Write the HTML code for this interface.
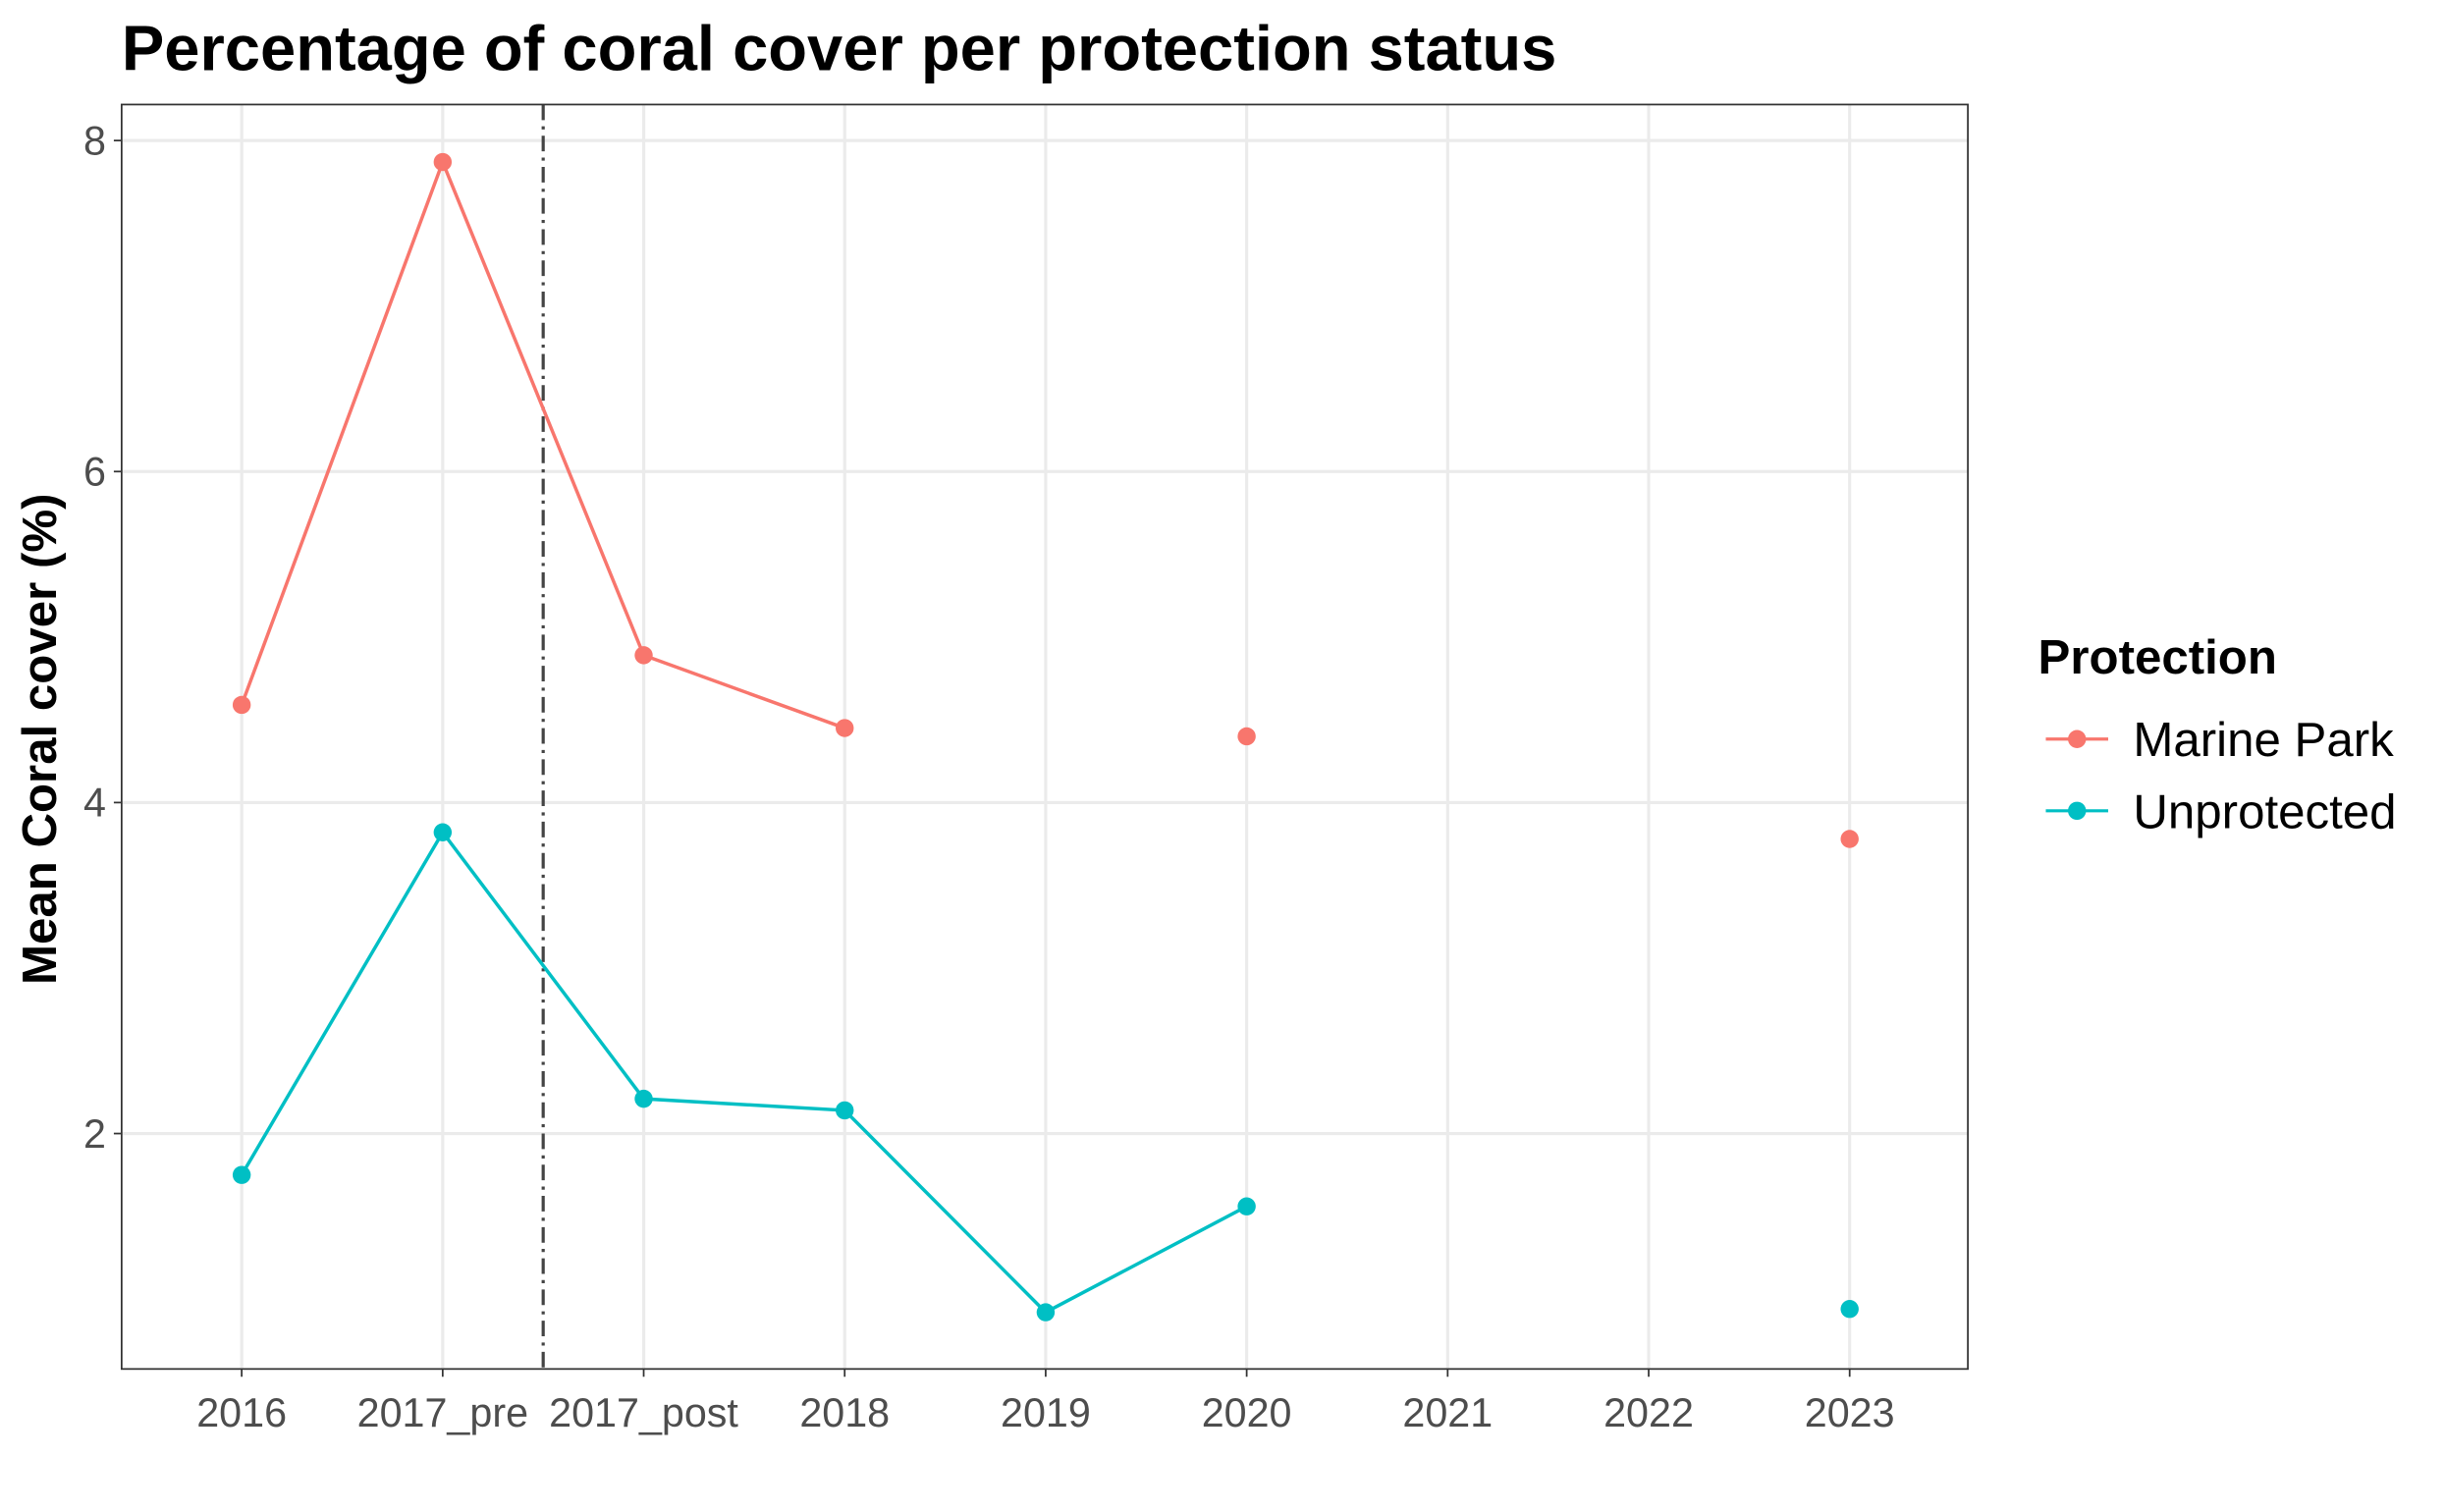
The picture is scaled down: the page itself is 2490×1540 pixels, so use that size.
<!DOCTYPE html>
<html><head><meta charset="utf-8"><style>
html,body{margin:0;padding:0;background:#fff}
svg{display:block;font-family:"Liberation Sans",Arial,sans-serif}
</style></head><body>
<svg id="chart" width="2490" height="1540" viewBox="0 0 1568 969.7" xmlns="http://www.w3.org/2000/svg">
<rect width="1568" height="969.7" fill="#fff"/>
<text x="78" y="45" font-size="41" font-weight="bold" fill="#000">Percentage of coral cover per protection status</text>
<g id="grid"></g>
<g id="axes"></g>
<g id="series"></g>
<rect x="78" y="67" width="1184" height="811" fill="none" stroke="#333" stroke-width="1.1"/>
<text transform="translate(36,474) rotate(-90)" text-anchor="middle" font-size="31" font-weight="bold" fill="#000">Mean Coral cover (%)</text>
<g>
<text x="1307" y="432" font-size="31" font-weight="bold" fill="#000">Protection</text>
<g>
<line x1="1312" y1="474" x2="1352" y2="474" stroke="#F8766D" stroke-width="2"/><circle cx="1332" cy="474" r="5.8" fill="#F8766D"/>
<text x="1368" y="485" font-size="31" fill="#000">Marine Park</text></g>
<g>
<line x1="1312" y1="520" x2="1352" y2="520" stroke="#00BFC4" stroke-width="2"/><circle cx="1332" cy="520" r="5.8" fill="#00BFC4"/>
<text x="1368" y="531" font-size="31" fill="#000">Unprotected</text></g>
</g>
</svg>
<script>
const categories=["2016","2017_pre","2017_post","2018","2019","2020","2021","2022","2023"];
const marinePark=[4.59,7.87,4.89,4.45,null,4.40,null,null,3.78];
const unprotected=[1.75,3.82,2.21,2.14,0.92,1.56,null,null,0.94];
const yTicks=[2,4,6,8];
const dividerAfter="2017_pre";
const NS="http://www.w3.org/2000/svg";
const x0=155,dx=128.9;
const xs=i=>x0+i*dx;
const ys=v=>727-(v-2)*106.15;
function mk(t,a,p){const e=document.createElementNS(NS,t);for(const k in a)e.setAttribute(k,a[k]);p.appendChild(e);return e;}
const grid=document.getElementById('grid'),axes=document.getElementById('axes'),ser=document.getElementById('series');
yTicks.forEach(v=>{
 const l=mk('line',{x1:78,x2:1262,y1:ys(v),y2:ys(v),stroke:'#ebebeb','stroke-width':2},grid);
 
 
 mk('line',{x1:73,x2:78,y1:ys(v),y2:ys(v),stroke:'#333','stroke-width':1.1},axes);
 const t=mk('text',{x:68,y:ys(v)+9,'text-anchor':'end','font-size':26,fill:'#4d4d4d'},axes);
 t.textContent=v;
 
 
});
categories.forEach((c,i)=>{
 const l=mk('line',{x1:xs(i),x2:xs(i),y1:67,y2:878,stroke:'#ebebeb','stroke-width':2},grid);
 
 
 mk('line',{x1:xs(i),x2:xs(i),y1:878,y2:883,stroke:'#333','stroke-width':1.1},axes);
 const t=mk('text',{x:xs(i),y:915,'text-anchor':'middle','font-size':26,fill:'#4d4d4d'},axes);
 t.textContent=c;
 
 
});
const di=categories.indexOf(dividerAfter)+0.5;
const dv=mk('line',{x1:xs(di),x2:xs(di),y1:67,y2:878,stroke:'#444','stroke-width':2,'stroke-dasharray':'10,4,2,4'},ser);


function draw(vals,col,name){
 let seg=[];
 const flush=()=>{if(seg.length>1){const p=mk('polyline',{points:seg.join(' '),fill:'none',stroke:col,'stroke-width':2.2},ser);
  
  }seg=[];};
 vals.forEach((v,i)=>{if(v==null){flush();return;}seg.push(xs(i)+','+ys(v));});
 flush();
 vals.forEach((v,i)=>{if(v==null)return;const c=mk('circle',{cx:xs(i),cy:ys(v),r:5.8,fill:col},ser);
  
  });
}
draw(marinePark,'#F8766D','marine-park');
draw(unprotected,'#00BFC4','unprotected');
</script>
</body></html>
